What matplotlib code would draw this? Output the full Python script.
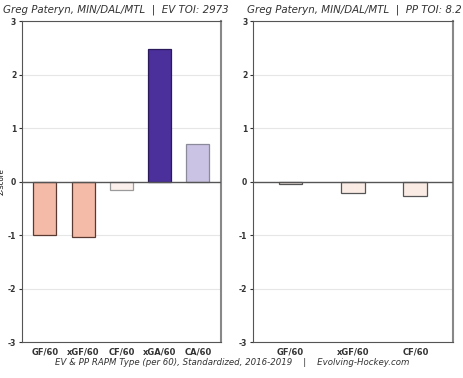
import matplotlib
matplotlib.use("Agg")
import matplotlib.pyplot as plt

ev_cats = ["GF/60", "xGF/60", "CF/60", "xGA/60", "CA/60"]
ev_vals = [-1.0, -1.03, -0.15, 2.48, 0.71]
ev_colors = ["#f4bba8", "#f4bba8", "#fbf0ec", "#4b2f9b", "#cbc3e3"]
ev_edges = ["#5a3a30", "#5a3a30", "#9a9a9a", "#2a1a5a", "#8a8a9a"]

pp_cats = ["GF/60", "xGF/60", "CF/60"]
pp_vals = [-0.04, -0.22, -0.27]
pp_colors = ["#fbefea", "#fbebe5", "#fbebe5"]
pp_edges = ["#555555", "#555555", "#555555"]

yticks = [-3, -2, -1, 0, 1, 2, 3]

fig = plt.figure(figsize=(4.64, 3.78), dpi=100)
ax1 = fig.add_axes([0.047, 0.095, 0.429, 0.849])
ax2 = fig.add_axes([0.545, 0.095, 0.431, 0.849])

def style(ax, cats, vals, colors, edges, width, xlim):
    ax.set_ylim(-3, 3)
    ax.set_xlim(*xlim)
    ax.set_yticks(yticks)
    ax.set_yticklabels([str(t) for t in yticks], fontsize=5.5, fontweight="bold")
    for t in yticks:
        if t != 0:
            ax.axhline(t, color="#e6e6e6", lw=0.8, zorder=0)
    ax.axhline(0, color="#555555", lw=1.0, zorder=3)
    x = range(len(cats))
    ax.bar(x, vals, width=width, color=colors, edgecolor=edges, linewidth=0.9, zorder=2)
    ax.set_xticks(list(x))
    ax.set_xticklabels(cats, fontsize=6, fontweight="bold", color="#333333")
    ax.tick_params(axis="both", length=2, pad=2, colors="#333333")
    ax.tick_params(axis="x", length=0, pad=4)
    for s in ["left", "bottom", "top"]:
        ax.spines[s].set_color("#555555")
        ax.spines[s].set_linewidth(0.8)
    ax.spines["right"].set_color("#888888")
    ax.spines["right"].set_linewidth(1.5)

style(ax1, ev_cats, ev_vals, ev_colors, ev_edges, 0.6, (-0.6, 4.6))
style(ax2, pp_cats, pp_vals, pp_colors, pp_edges, 0.38, (-0.6, 2.6))
ax1.set_ylabel("Z-Score", fontsize=5, labelpad=2)

fig.text(0.006, 0.973, "Greg Pateryn, MIN/DAL/MTL  |  EV TOI: 2973", fontsize=7.4,
         style="italic", color="#333333", va="center", ha="left")
fig.text(0.532, 0.973, "Greg Pateryn, MIN/DAL/MTL  |  PP TOI: 8.2", fontsize=7.4,
         style="italic", color="#333333", va="center", ha="left")
fig.text(0.5, 0.04, "EV & PP RAPM Type (per 60), Standardized, 2016-2019    |    Evolving-Hockey.com",
         fontsize=6.2, style="italic", color="#333333", ha="center", va="center")

fig.savefig("out.png", dpi=100)
